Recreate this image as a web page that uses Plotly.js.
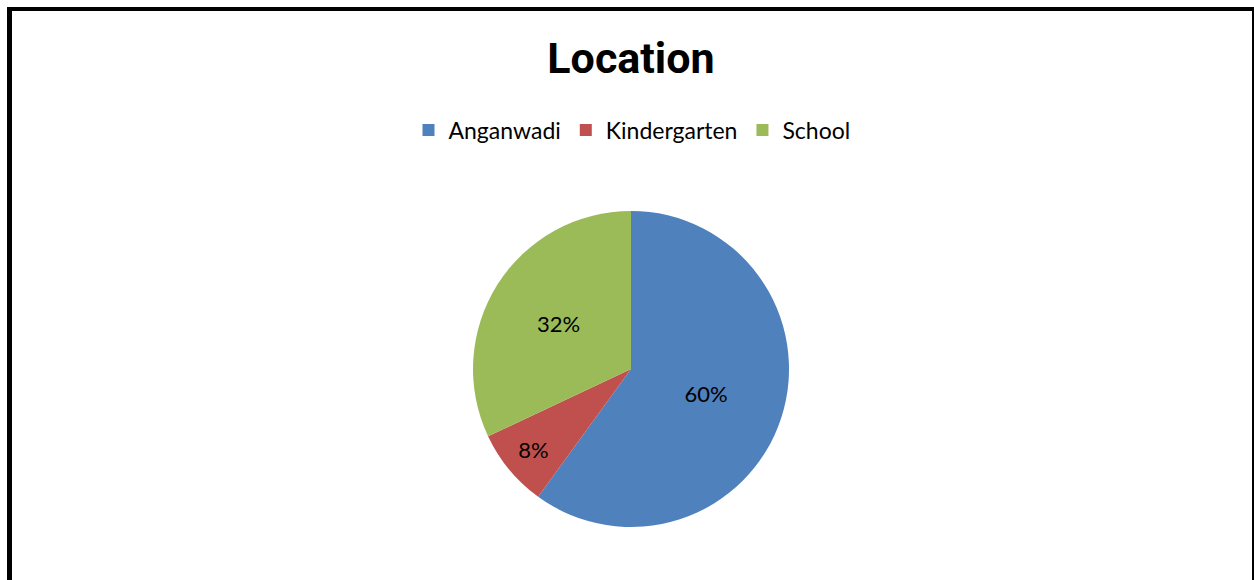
<!DOCTYPE html>
<html>
<head>
<meta charset="utf-8">
<script src="https://cdn.plot.ly/plotly-3.0.1.min.js"></script>
<style>
  html, body { margin: 0; padding: 0; overflow: hidden; background: #fff; }
  #chart { position: absolute; left: 0; top: 0; width: 1254px; height: 580px; }
  #frame { position: absolute; left: 7px; top: 7px; width: 1240px; height: 620px;
           border-left: 5px solid #000; border-top: 4px solid #000; border-right: 5px solid #000;
           pointer-events: none; }
</style>
</head>
<body>
<div id="chart"></div>
<div id="frame"></div>
<script>
const categories = ["Anganwadi", "Kindergarten", "School"];
const values = [60, 8, 32];
const colors = ["#4F81BD", "#C0504D", "#9BBB59"];
const chartTitle = "Location";

const W = 1254, H = 580;
const trace = {
  type: "pie",
  labels: categories,
  values: values,
  sort: false,
  direction: "clockwise",
  rotation: 0,
  marker: { colors: colors, line: { color: "#ffffff", width: 0 } },
  textinfo: "percent",
  texttemplate: "%{percent:.0%}",
  textposition: "inside",
  insidetextorientation: "horizontal",
  textfont: { family: "Lato, 'Open Sans', sans-serif", size: 22, color: "#000000" },
  hoverinfo: "label+percent",
  domain: { x: [0.0064, 1], y: [(H - 369 - 158) / H, (H - 369 + 158) / H] }
};

const layout = {
  width: W, height: H,
  margin: { l: 0, r: 0, t: 0, b: 0 },
  paper_bgcolor: "#ffffff",
  title: {
    text: "<b>" + chartTitle + "</b>",
    font: { family: "'Liberation Sans Narrow', 'Roboto', sans-serif", size: 43, color: "#000000" },
    x: 631 / W, xanchor: "center", xref: "paper",
    y: 1 - 58 / H, yanchor: "middle", yref: "container"
  },
  showlegend: true,
  legend: {
    orientation: "h",
    x: 632 / W, xanchor: "center",
    y: 1 - 130 / H, yanchor: "middle",
    font: { family: "Lato, 'Open Sans', sans-serif", size: 23, color: "#000000" },
    itemsizing: "constant",
    traceorder: "normal"
  }
};

Plotly.newPlot("chart", [trace], layout, { displayModeBar: false, staticPlot: true });
</script>
</body>
</html>
